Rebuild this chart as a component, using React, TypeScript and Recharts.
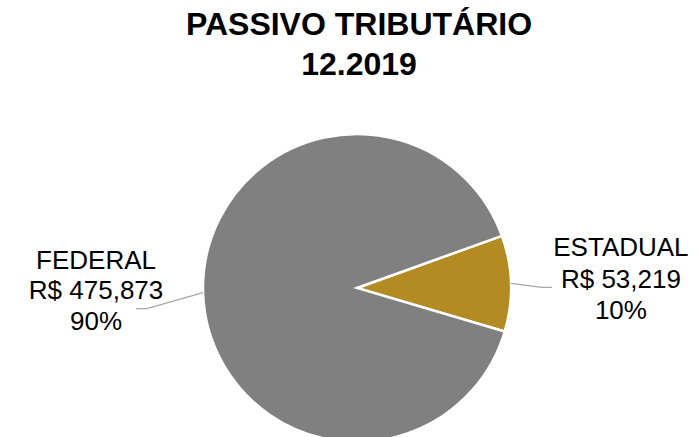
import React from "react";
import { PieChart, Pie, Cell } from "recharts";

const categories = ["ESTADUAL", "FEDERAL"];
const values = [53219, 475873];
const percentLabels = ["10%", "90%"];
const colors = ["#B38B22", "#808080"];
const titleLines = ["PASSIVO TRIBUTÁRIO", "12.2019"];

const data = categories.map((name, i) => ({ name, value: values[i], pct: percentLabels[i] }));

const RAD = Math.PI / 180;
const fmt = (v: number) => "R$ " + v.toLocaleString("en-US");

const renderLabel = (props: any) => {
  const { cx, cy, midAngle, outerRadius, index } = props;
  const d = data[index];
  const sx = cx + outerRadius * Math.cos(-midAngle * RAD);
  const sy = cy + outerRadius * Math.sin(-midAngle * RAD);
  const left = Math.cos(-midAngle * RAD) < 0;
  let ex: number, ey: number, fx: number, tx: number, offs: number[];
  if (left) {
    ex = sx - 56;
    ey = sy + 16;
    fx = ex - 11;
    tx = fx - 40;
    offs = [-40, -10, 21];
  } else {
    ex = sx + 31;
    ey = sy + 4;
    fx = ex + 10;
    tx = fx + 69;
    offs = [-31, 1, 32];
  }
  const lines = [d.name, fmt(d.value), d.pct];
  return (
    <g key={"lbl" + index}>
      <polyline
        points={`${sx},${sy} ${ex},${ey} ${fx},${ey}`}
        fill="none"
        stroke="#A6A6A6"
        strokeWidth={1.3}
      />
      {lines.map((t, i) => (
        <text
          key={i}
          x={tx}
          y={ey + offs[i]}
          textAnchor="middle"
          fontFamily="'Liberation Sans', Arial, sans-serif"
          fontSize={26}
          fill="#000"
        >
          {t}
        </text>
      ))}
    </g>
  );
};

export default function App() {
  return (
    <div style={{ position: "absolute", left: 0, top: 0, width: 698, height: 437, background: "#fff", overflow: "hidden" }}>
      <div
        style={{
          position: "absolute",
          left: 0,
          top: 4,
          width: 718,
          textAlign: "center",
          fontFamily: "'Liberation Sans', Arial, sans-serif",
          fontWeight: "bold",
          fontSize: 32,
          lineHeight: "40px",
          color: "#000",
        }}
      >
        {titleLines.map((t, i) => (
          <div key={i}>{t}</div>
        ))}
      </div>
      <PieChart
        width={698}
        height={437}
        margin={{ top: 0, right: 0, bottom: 0, left: 0 }}
        style={{ position: "absolute", left: 0, top: 0 }}
      >
        <Pie
          data={data}
          dataKey="value"
          nameKey="name"
          cx={357}
          cy={288}
          outerRadius={154}
          startAngle={-16.4}
          endAngle={343.6}
          stroke="#fff"
          strokeWidth={2.5}
          label={renderLabel}
          labelLine={false}
          isAnimationActive={false}
        >
          {data.map((d, i) => (
            <Cell key={i} fill={colors[i]} />
          ))}
        </Pie>
      </PieChart>
    </div>
  );
}
